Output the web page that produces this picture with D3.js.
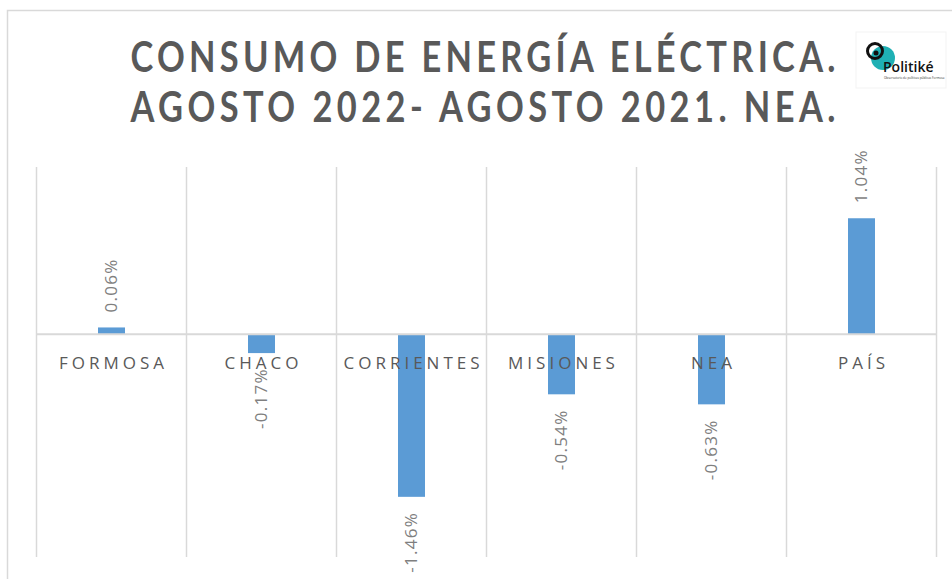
<!DOCTYPE html>
<html>
<head>
<meta charset="utf-8">
<script src="https://cdn.jsdelivr.net/npm/d3@7"></script>
<style>
  html, body { margin: 0; padding: 0; background: #fff; }
  svg { display: block; }
</style>
</head>
<body>
<svg id="chart" width="952" height="579"></svg>
<script>
const categories = ["FORMOSA", "CHACO", "CORRIENTES", "MISIONES", "NEA", "PAÍS"];
const values = [0.06, -0.17, -1.46, -0.54, -0.63, 1.04];
const valueLabels = ["0.06%", "-0.17%", "-1.46%", "-0.54%", "-0.63%", "1.04%"];
const titleLines = ["CONSUMO DE ENERGÍA ELÉCTRICA.", "AGOSTO 2022- AGOSTO 2021. NEA."];

const svg = d3.select("#chart");

// outer frame
svg.append("rect").attr("x", 7.5).attr("y", 10.5).attr("width", 960).attr("height", 600)
  .attr("fill", "none").attr("stroke", "#d9d9d9").attr("stroke-width", 1.5);

// title (narrowed glyphs with extra tracking, Calibri-like)
const titleY = [72, 122];
const squeeze = 0.82;
svg.selectAll("g.title").data(titleLines).join("g")
  .attr("class", "title")
  .attr("transform", (d, i) => `translate(483,${titleY[i]}) scale(${squeeze},1)`)
  .append("text")
  .attr("x", 0).attr("y", 0)
  .attr("text-anchor", "middle")
  .attr("font-family", "Lato, 'Open Sans', sans-serif")
  .attr("font-weight", "bold")
  .attr("font-size", 42)
  .attr("fill", "#595959")
  .attr("textLength", 705 / squeeze)
  .attr("lengthAdjust", "spacing")
  .text(d => d);

// logo
const logo = svg.append("g").attr("transform", "translate(856,32)");
logo.append("rect").attr("x", 0).attr("y", 0).attr("width", 90).attr("height", 56).attr("fill", "#fff")
  .attr("stroke", "#f3f3f3");
logo.append("circle").attr("cx", 27).attr("cy", 26).attr("r", 12).attr("fill", "#1fb0b4");
logo.append("circle").attr("cx", 19).attr("cy", 19).attr("r", 7.5).attr("fill", "none").attr("stroke", "#111").attr("stroke-width", 3);
logo.append("circle").attr("cx", 20).attr("cy", 21).attr("r", 2.5).attr("fill", "#111");
logo.append("text").attr("x", 27).attr("y", 40).attr("font-family", "'Open Sans', sans-serif")
  .attr("font-size", 14).attr("font-weight", "600").attr("fill", "#111").text("Politiké");
logo.append("text").attr("x", 28).attr("y", 47).attr("font-family", "'Open Sans', sans-serif")
  .attr("font-size", 3).attr("fill", "#333").text("Observatorio de políticas públicas Formosa");

// scales
const x = d3.scaleBand().domain(categories).range([36.5, 936.5]).paddingInner(0).paddingOuter(0);
const y = d3.scaleLinear().domain([-2, 1.5]).range([557, 167]);

// vertical gridlines (category separators)
const gridX = categories.map(c => x(c)).concat([x.range()[1]]);
svg.selectAll("line.vgrid").data(gridX).join("line")
  .attr("class", "vgrid")
  .attr("x1", d => d).attr("x2", d => d)
  .attr("y1", y.range()[1]).attr("y2", y.range()[0])
  .attr("stroke", "#d9d9d9").attr("stroke-width", 1.5);

// bars
const barW = x.bandwidth() * 0.18;
svg.selectAll("rect.bar").data(values).join("rect")
  .attr("class", "bar")
  .attr("x", (d, i) => x(categories[i]) + x.bandwidth() / 2 - barW / 2)
  .attr("y", d => y(Math.max(0, d)))
  .attr("width", barW)
  .attr("height", d => Math.abs(y(d) - y(0)))
  .attr("fill", "#5b9bd5");

// zero axis line
svg.append("line")
  .attr("x1", x.range()[0]).attr("x2", x.range()[1])
  .attr("y1", y(0)).attr("y2", y(0))
  .attr("stroke", "#d9d9d9").attr("stroke-width", 2);

// category labels
svg.selectAll("text.cat").data(categories).join("text")
  .attr("class", "cat")
  .attr("x", d => x(d) + x.bandwidth() / 2 + 2)
  .attr("y", y(0) + 35)
  .attr("text-anchor", "middle")
  .attr("font-family", "'Open Sans', sans-serif")
  .attr("font-size", 17)
  .attr("letter-spacing", "4px")
  .attr("fill", "#595959")
  .text(d => d);

// data labels (rotated)
svg.selectAll("text.val").data(values).join("text")
  .attr("class", "val")
  .attr("transform", (d, i) => {
    const cx = x(categories[i]) + x.bandwidth() / 2;
    const yy = d >= 0 ? y(d) - 15 : y(d) + 15;
    return `translate(${cx},${yy}) rotate(-90)`;
  })
  .attr("dy", "0.35em")
  .attr("text-anchor", d => d >= 0 ? "start" : "end")
  .attr("font-family", "'Open Sans', sans-serif")
  .attr("font-size", 17)
  .attr("letter-spacing", "1.3px")
  .attr("fill", "#7f7f7f")
  .text((d, i) => valueLabels[i]);
</script>
</body>
</html>
